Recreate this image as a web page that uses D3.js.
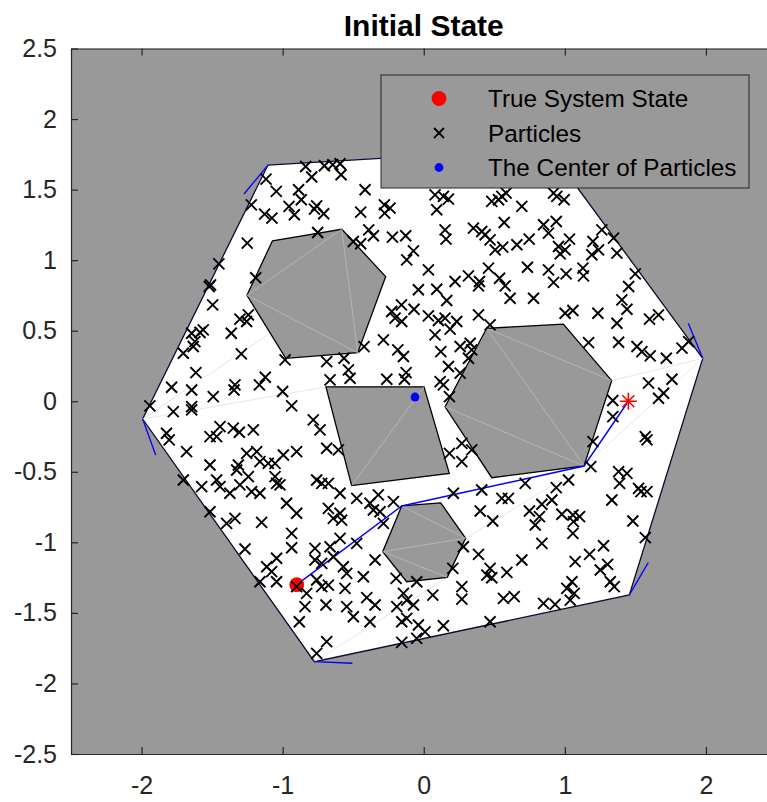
<!DOCTYPE html>
<html>
<head>
<meta charset="utf-8">
<script src="https://d3js.org/d3.v7.min.js"></script>
<style>
  body { margin: 0; background: #fff; }
  svg text { font-family: "Liberation Sans", Arial, sans-serif; }
</style>
</head>
<body>
<script>
var w = 767, h = 802;

// axis ticks
var xTicks = [-2, -1, 0, 1, 2];
var xTickLabels = ['-2', '-1', '0', '1', '2'];
var yTicks = [-2.5, -2, -1.5, -1, -0.5, 0, 0.5, 1, 1.5, 2, 2.5];
var yTickLabels = ['-2.5', '-2', '-1.5', '-1', '-0.5', '0', '0.5', '1', '1.5', '2', '2.5'];

// free space (outer hexagon)
var outerX = [-1.104, 0.884, 1.977, 1.457, -0.775, -1.992];
var outerY = [1.674, 1.793, 0.304, -1.373, -1.846, -0.126];

// obstacles
var obstacleX = [
  [-1.073, -0.581, -0.270, -0.468, -0.978, -1.253],
  [-0.693, 0.002, 0.181, -0.511],
  [0.446, 0.989, 1.332, 1.136, 0.482, 0.151],
  [-0.156, 0.120, 0.297, 0.167, -0.121, -0.291]
];
var obstacleY = [
  [1.136, 1.219, 0.883, 0.344, 0.304, 0.751],
  [0.102, 0.102, -0.511, -0.598],
  [0.517, 0.547, 0.146, -0.459, -0.542, -0.039],
  [-0.742, -0.720, -0.971, -1.248, -1.279, -1.066]
];
// triangulation edges inside obstacles (vertex index pairs)
var obstacleDiagonals = [
  [[5, 1], [5, 3], [1, 3]],
  [[1, 3]],
  [[0, 2], [0, 3], [5, 3]],
  [[0, 2], [5, 2], [5, 3]]
];
// faint roadmap edges in free space: x1, y1, x2, y2
var roadX1 = [-1.992, -1.992, -0.775, 0.297, 1.332, 1.136];
var roadY1 = [-0.126, -0.126, -1.846, -0.971, 0.146, -0.459];
var roadX2 = [-0.693, -1.105, 0.167, 1.136, 1.977, 1.977];
var roadY2 = [0.102, 0.470, -1.248, -0.459, 0.304, 0.304];

// short blue segments at outer vertices
var tickX1 = [-1.104, 1.977, 1.457, -0.775, -1.992];
var tickY1 = [1.674, 0.304, -1.373, -1.846, -0.126];
var tickX2 = [-1.274, 1.875, 1.591, -0.506, -1.900];
var tickY2 = [1.469, 0.552, -1.144, -1.857, -0.381];

// planned path
var pathX = [-0.9, -0.156, 1.136, 1.45];
var pathY = [-1.3, -0.742, -0.459, 0.0];

var trueState = [-0.9, -1.3];
var particleCenter = [-0.062, 0.030];
var goal = [1.45, 0.0];

var particlesX = [
  -0.837, -0.794, -0.704, -0.645, -0.593, -0.586, -1.118, -1.045, -0.887, -0.868,
  -0.955, -0.917, -0.759, -0.709, -0.775, -1.128, -1.076, -1.222, -0.416, -0.447,
  -0.279, -0.239, -0.277, -1.251, -0.752, -0.390, -0.357, -0.499, -0.447, -0.222,
  -0.128, -0.073, -0.121, -1.452, -1.191, -1.520, -1.511, -1.496, -0.038, -0.158,
  -0.069, -0.227, -0.203, -0.156, -1.303, -1.255, -1.243, -1.364, -1.563, -1.645,
  -1.622, -1.586, -1.704, -1.634, -1.293, -0.286, -0.184, -0.144, -0.688, -0.565,
  -0.534, -0.522, -0.983, -1.615, -1.787, -1.645, -1.492, -1.338, -1.345, -1.165,
  -1.123, -1.000, -0.664, -0.262, -0.137, -0.125, -1.941, -1.645, -0.936, -0.423,
  0.080, 0.139, 0.175, 0.092, 0.482, 0.553, 0.584, 0.530, 0.695, 0.920,
  0.943, 0.995, 0.151, 0.158, 0.352, 0.411, 0.435, 0.470, 0.570, 0.506,
  0.560, 0.660, 0.747, 0.849, 0.939, 0.884, 0.955, 1.002, 1.033, 0.967,
  1.199, 1.262, 1.345, 1.239, 1.191, 1.369, 0.033, 0.222, 0.317, 0.395,
  0.388, 0.459, 0.537, 0.577, 0.735, 0.884, 0.920, 1.009, 1.128, 1.132,
  0.092, 0.163, 0.612, 0.778, 1.499, 1.452, 1.404, 1.440, 0.033, 0.104,
  0.151, 0.234, 0.187, 0.388, 0.470, 1.002, 1.057, 1.234, 1.369, 1.600,
  1.664, 0.080, 0.121, 0.258, 0.329, 0.340, 0.317, 0.175, 0.258, 0.116,
  0.139, 0.182, 1.168, 1.381, 1.511, 1.546, 1.605, 1.719, 1.830, 1.877,
  1.593, 1.759, 1.700, 1.664, 1.340,
  -1.775, -1.645, -0.783, -0.735, -1.823, -1.804, -1.681, -1.515, -1.468, -1.444,
  -1.350, -1.307, -1.208, -1.255, -1.184, -1.515, -1.314, -1.326, -1.161, -1.102,
  -1.054, -0.995, -0.901, -0.688, -0.605, -1.704, -1.574, -1.468, -1.444, -1.374,
  -1.303, -1.243, -1.220, -1.161, -1.054, -1.043, -1.019, -0.759, -0.723, -0.676,
  -0.972, -0.901, -0.593, -0.475, -0.381, -0.322, -0.215, -0.357, -0.310, -0.676,
  -0.641, -0.593, -0.582, -1.515, -1.397, -1.338, -1.149, -0.936, -0.936, -1.267,
  -0.771, -0.664, -0.593, -0.475, -0.286, -0.771, -0.723, -0.641, -0.570, -0.546,
  -0.428, -0.345, -1.043, -1.113, -1.078, -1.161, -1.043, -0.901, -0.830, -0.759,
  -0.723, -0.676, -0.558, -0.842, -0.693, -0.546, -0.499, -0.381, -0.404, -0.345,
  -0.196, -0.144, -0.121, -0.191, -0.073, -0.050, -0.882, -0.688, -0.759, -0.156,
  -0.121, -0.156, -0.050, -0.038,
  1.340, 1.570, 1.582, 1.199, 1.184, 1.381, 1.440, 1.388, 1.522, 1.539,
  1.582, 1.333, 1.482, 1.570, 0.182, 0.270, 0.340, 0.270, 0.719, 0.939,
  1.026, 0.210, 0.411, 0.553, 0.600, 0.400, 0.489, 0.749, 0.837, 0.908,
  0.820, 0.790, 0.979, 1.057, 1.104, 1.061, 1.057, 0.837, 0.281, 0.388,
  0.695, 0.589, 0.470, 0.447, 0.482, 0.206, 0.270, 0.270, 0.064, 0.565,
  0.641, 1.073, 1.175, 1.274, 1.251, 1.303, 1.322, 1.350, 1.014, 1.050,
  1.066, 1.038, 0.849, 0.931, 0.470, 0.139, 0.009
];
var particlesY = [
  1.664, 1.589, 1.669, 1.676, 1.683, 1.605, 1.574, 1.487, 1.499, 1.428,
  1.381, 1.322, 1.385, 1.329, 1.362, 1.326, 1.298, 1.392, 1.499, 1.340,
  1.392, 1.369, 1.333, 1.121, 1.196, 1.215, 1.173, 1.132, 1.116, 1.163,
  1.173, 1.066, 1.002, 0.974, 0.875, 0.813, 0.825, 0.683, 0.790, 0.683,
  0.652, 0.636, 0.589, 0.565, 0.582, 0.565, 0.612, 0.482, 0.506, 0.482,
  0.423, 0.487, 0.340, 0.388, 0.336, 0.435, 0.364, 0.317, 0.281, 0.305,
  0.222, 0.163, 0.293, 0.203, 0.099, 0.080, 0.033, 0.116, 0.080, 0.116,
  0.170, 0.069, 0.151, 0.156, 0.156, 0.203, -0.033, -0.038, -0.033, 0.387,
  1.463, 1.452, 1.433, 1.357, 1.416, 1.452, 1.475, 1.428, 1.381, 1.475,
  1.452, 1.428, 1.215, 1.149, 1.227, 1.203, 1.180, 1.144, 1.267, 1.073,
  1.092, 1.109, 1.149, 1.251, 1.274, 1.191, 1.097, 1.073, 1.149, 1.045,
  1.132, 1.215, 1.156, 1.073, 1.038, 1.050, 0.931, 0.849, 0.889, 0.849,
  0.818, 0.943, 0.872, 0.818, 0.950, 0.931, 0.842, 0.903, 0.943, 0.889,
  0.794, 0.714, 0.730, 0.730, 0.903, 0.813, 0.719, 0.652, 0.605, 0.572,
  0.589, 0.565, 0.511, 0.612, 0.541, 0.624, 0.643, 0.624, 0.553, 0.582,
  0.612, 0.470, 0.352, 0.388, 0.411, 0.364, 0.305, 0.246, 0.199, 0.139,
  0.116, 0.033, 0.416, 0.418, 0.388, 0.352, 0.322, 0.305, 0.376, 0.423,
  0.128, 0.156, 0.057, 0.021, 0.005,
  -0.073, -0.061, -0.132, -0.203, -0.227, -0.274, -0.357, -0.251, -0.251, -0.180,
  -0.191, -0.220, -0.203, -0.369, -0.357, -0.452, -0.452, -0.487, -0.428, -0.440,
  -0.440, -0.381, -0.357, -0.333, -0.345, -0.558, -0.605, -0.558, -0.605, -0.652,
  -0.593, -0.534, -0.641, -0.652, -0.534, -0.582, -0.593, -0.558, -0.582, -0.582,
  -0.723, -0.794, -0.652, -0.688, -0.723, -0.664, -0.711, -0.771, -0.783, -0.759,
  -0.830, -0.794, -0.842, -0.783, -0.865, -0.830, -0.858, -0.936, -1.038, -1.047,
  -1.043, -1.031, -0.972, -1.007, -0.865, -1.125, -1.149, -1.102, -1.173, -1.220,
  -1.244, -1.125, -1.113, -1.173, -1.208, -1.279, -1.279, -1.314, -1.362, -1.267,
  -1.314, -1.303, -1.326, -1.456, -1.444, -1.456, -1.527, -1.563, -1.392, -1.444,
  -1.255, -1.362, -1.409, -1.456, -1.444, -1.279, -1.563, -1.704, -1.787, -1.563,
  -1.539, -1.709, -1.681, -1.586,
  -0.109, -0.251, -0.274, -0.286, -0.463, -0.499, -0.511, -0.582, -0.617, -0.641,
  -0.641, -0.700, -0.849, -0.967, -0.369, -0.298, -0.345, -0.428, -0.582, -0.612,
  -0.558, -0.652, -0.629, -0.688, -0.688, -0.778, -0.849, -0.778, -0.730, -0.700,
  -0.818, -0.877, -0.801, -0.806, -0.818, -0.853, -0.936, -1.007, -1.031, -1.085,
  -1.125, -1.213, -1.184, -1.232, -1.251, -1.184, -1.314, -1.402, -1.374, -1.397,
  -1.385, -1.137, -1.085, -1.024, -1.196, -1.156, -1.279, -1.314, -1.326, -1.279,
  -1.362, -1.409, -1.433, -1.440, -1.563, -1.591, -1.634
];

var x = d3.scaleLinear().domain([-2.5, 2.5]).range([71, 776.5]);
var y = d3.scaleLinear().domain([-2.5, 2.5]).range([754, 48.5]);

var svg = d3.select('body').append('svg')
  .attr('width', w)
  .attr('height', h);

svg.append('defs').append('clipPath').attr('id', 'plotClip')
  .append('rect')
  .attr('x', x(-2.5)).attr('y', y(2.5))
  .attr('width', x(2.5) - x(-2.5)).attr('height', y(-2.5) - y(2.5));

var plot = svg.append('g').attr('clip-path', 'url(#plotClip)');

plot.append('rect')
  .attr('x', x(-2.5)).attr('y', y(2.5))
  .attr('width', x(2.5) - x(-2.5)).attr('height', y(-2.5) - y(2.5))
  .attr('fill', '#999999');

function polyPoints(xs, ys) {
  return xs.map(function(d, i) { return x(d) + ',' + y(ys[i]); }).join(' ');
}

plot.append('polygon')
  .attr('points', polyPoints(outerX, outerY))
  .attr('fill', '#ffffff')
  .attr('stroke', '#0b0b30')
  .attr('stroke-width', 1.3);

plot.selectAll('line.road')
  .data(roadX1)
  .enter().append('line')
  .attr('class', 'road')
  .attr('x1', function(d) { return x(d); })
  .attr('y1', function(d, i) { return y(roadY1[i]); })
  .attr('x2', function(d, i) { return x(roadX2[i]); })
  .attr('y2', function(d, i) { return y(roadY2[i]); })
  .attr('stroke', '#e0e0e0')
  .attr('stroke-width', 0.8);

obstacleX.forEach(function(ox, k) {
  var oy = obstacleY[k];
  plot.append('polygon')
    .attr('points', polyPoints(ox, oy))
    .attr('fill', '#999999')
    .attr('stroke', '#000000')
    .attr('stroke-width', 1.3);
  obstacleDiagonals[k].forEach(function(p) {
    plot.append('line')
      .attr('x1', x(ox[p[0]])).attr('y1', y(oy[p[0]]))
      .attr('x2', x(ox[p[1]])).attr('y2', y(oy[p[1]]))
      .attr('stroke', '#bdbdbd')
      .attr('stroke-width', 0.8);
  });
});

plot.selectAll('line.vtick')
  .data(tickX1)
  .enter().append('line')
  .attr('class', 'vtick')
  .attr('x1', function(d) { return x(d); })
  .attr('y1', function(d, i) { return y(tickY1[i]); })
  .attr('x2', function(d, i) { return x(tickX2[i]); })
  .attr('y2', function(d, i) { return y(tickY2[i]); })
  .attr('stroke', '#0000ff')
  .attr('stroke-width', 1.3);

var pathLine = d3.line()
  .x(function(d) { return x(d); })
  .y(function(d, i) { return y(pathY[i]); });

plot.append('path')
  .attr('d', pathLine(pathX))
  .attr('fill', 'none')
  .attr('stroke', '#0000ff')
  .attr('stroke-width', 1.4);

plot.append('circle')
  .attr('cx', x(trueState[0])).attr('cy', y(trueState[1]))
  .attr('r', 7.4)
  .attr('fill', '#ff0000');

var xMark = 'M-5.5,-5.5L5.5,5.5M-5.5,5.5L5.5,-5.5';
plot.selectAll('path.particle')
  .data(particlesX)
  .enter().append('path')
  .attr('class', 'particle')
  .attr('d', xMark)
  .attr('transform', function(d, i) { return 'translate(' + x(d) + ',' + y(particlesY[i]) + ')'; })
  .attr('fill', 'none')
  .attr('stroke', '#000000')
  .attr('stroke-width', 1.9);

plot.append('circle')
  .attr('cx', x(particleCenter[0])).attr('cy', y(particleCenter[1]))
  .attr('r', 4.4)
  .attr('fill', '#0000ff');

var star = 'M0,-8.5L0,8.5M-8.5,0L8.5,0M-6,-6L6,6M-6,6L6,-6';
plot.append('path')
  .attr('d', star)
  .attr('transform', 'translate(' + x(goal[0]) + ',' + y(goal[1]) + ')')
  .attr('fill', 'none')
  .attr('stroke', '#ff0000')
  .attr('stroke-width', 1.6);

// legend
var legend = svg.append('g');
legend.append('rect')
  .attr('x', 381).attr('y', 75)
  .attr('width', 368).attr('height', 113)
  .attr('fill', '#999999')
  .attr('stroke', '#262626')
  .attr('stroke-width', 1);

var legendNames = ['True System State', 'Particles', 'The Center of Particles'];
legendNames.forEach(function(name, i) {
  var cy = 98.5 + i * 34.5;
  if (i === 0) {
    legend.append('circle').attr('cx', 439).attr('cy', cy).attr('r', 7.4).attr('fill', '#ff0000');
  } else if (i === 1) {
    legend.append('path').attr('d', 'M-5,-5L5,5M-5,5L5,-5')
      .attr('transform', 'translate(439,' + cy + ')')
      .attr('stroke', '#000000').attr('stroke-width', 1.8).attr('fill', 'none');
  } else {
    legend.append('circle').attr('cx', 439).attr('cy', cy).attr('r', 4.4).attr('fill', '#0000ff');
  }
  legend.append('text')
    .attr('x', 488).attr('y', cy)
    .attr('dy', '0.35em')
    .attr('font-size', 24.3)
    .attr('fill', '#000000')
    .text(name);
});

// axes
var xAxisB = d3.axisBottom(x).tickValues(xTicks)
  .tickFormat(function(d, i) { return xTickLabels[i]; })
  .tickSizeInner(-7).tickSizeOuter(0).tickPadding(22);
var xAxisT = d3.axisTop(x).tickValues(xTicks).tickFormat('')
  .tickSizeInner(-7).tickSizeOuter(0);
var yAxisL = d3.axisLeft(y).tickValues(yTicks)
  .tickFormat(function(d, i) { return yTickLabels[i]; })
  .tickSizeInner(-7).tickSizeOuter(0).tickPadding(14);

svg.append('g').attr('transform', 'translate(0,' + y(-2.5) + ')').call(xAxisB);
svg.append('g').attr('transform', 'translate(0,' + y(2.5) + ')').call(xAxisT);
svg.append('g').attr('transform', 'translate(' + x(-2.5) + ',0)').call(yAxisL);

svg.selectAll('.domain, .tick line').attr('stroke', '#262626').attr('stroke-width', 1.2);
svg.selectAll('.tick text')
  .attr('font-size', 25)
  .attr('font-family', '"Liberation Sans", Arial, sans-serif')
  .attr('fill', '#262626');

svg.append('text')
  .attr('x', (x(-2.5) + x(2.5)) / 2)
  .attr('y', 36)
  .attr('text-anchor', 'middle')
  .attr('font-size', 30)
  .attr('font-weight', 'bold')
  .attr('fill', '#000000')
  .text('Initial State');
</script>
</body>
</html>
